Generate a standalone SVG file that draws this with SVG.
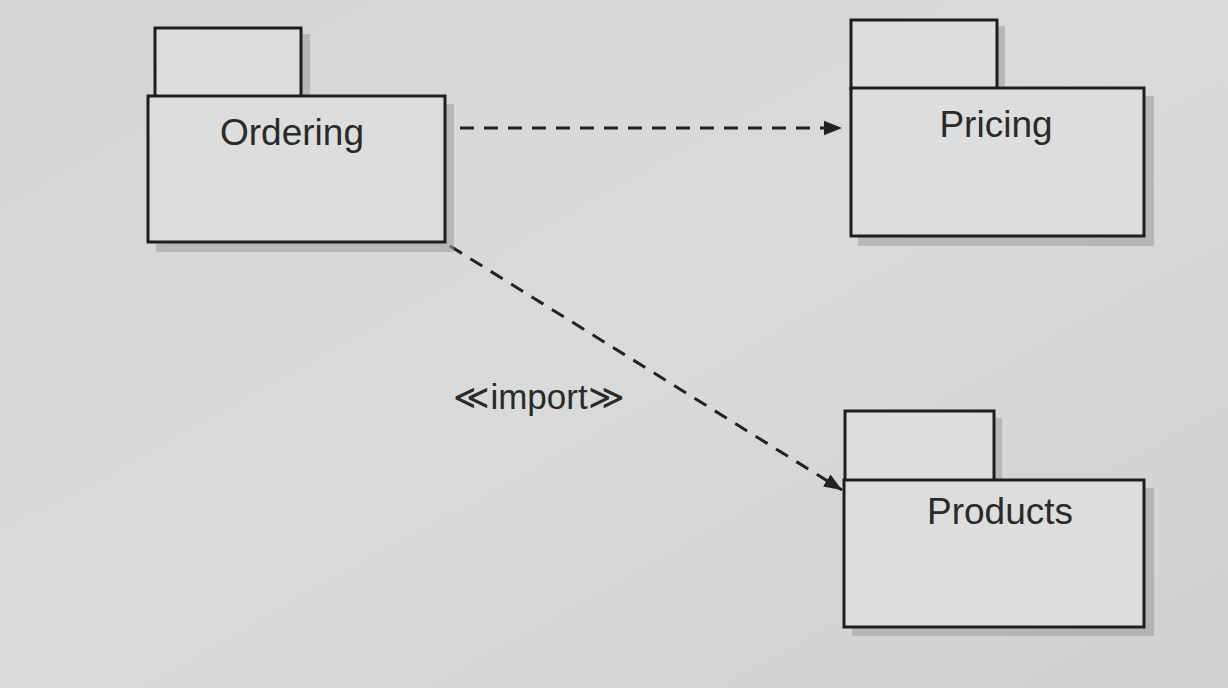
<svg xmlns="http://www.w3.org/2000/svg" width="1228" height="688" viewBox="0 0 1228 688">
<defs>
<style>
.shadow{fill:#9a9c9b;opacity:0.55}
.box{fill:#dcdedd;stroke:#1e1e1e;stroke-width:3}
.lbl{font-family:"Liberation Sans",Arial,sans-serif;font-size:37px;fill:#2a2a2a;text-anchor:middle}
.dep{fill:none;stroke:#222;stroke-width:3;stroke-dasharray:14 10}
</style>
<marker id="arr" viewBox="0 0 10 10" refX="10" refY="5" markerWidth="6" markerHeight="6" markerUnits="strokeWidth" orient="auto">
<path d="M0,1 L10,5 L0,9 Z" fill="#222"/>
</marker>
<linearGradient id="bg" x1="0" y1="0" x2="1" y2="1">
<stop offset="0" stop-color="#d4d6d5"/>
<stop offset="0.5" stop-color="#d9dbda"/>
<stop offset="1" stop-color="#cfd1d0"/>
</linearGradient>
</defs>
<rect width="1228" height="688" fill="url(#bg)"/>
<g id="connectors">
<line class="dep" x1="460" y1="128" x2="842" y2="128" marker-end="url(#arr)"/>
<line class="dep" x1="450" y1="246" x2="842" y2="490" marker-end="url(#arr)"/>
<text class="lbl" x="539" y="409" style="font-size:35px">≪import≫</text>
</g>
<g id="ordering">
<rect class="shadow" x="162" y="34" width="148" height="70"/>
<rect class="shadow" x="156" y="104" width="298" height="148"/>
<rect class="box" x="155" y="28" width="146" height="69"/>
<rect class="box" x="148" y="96" width="297" height="146"/>
<text class="lbl" x="292" y="145">Ordering</text>
</g>
<g id="pricing">
<rect class="shadow" x="858" y="26" width="147" height="70"/>
<rect class="shadow" x="858" y="96" width="296" height="150"/>
<rect class="box" x="851" y="20" width="146" height="69"/>
<rect class="box" x="851" y="88" width="293" height="148"/>
<text class="lbl" x="996" y="137">Pricing</text>
</g>
<g id="products">
<rect class="shadow" x="852" y="418" width="150" height="70"/>
<rect class="shadow" x="852" y="488" width="302" height="148"/>
<rect class="box" x="845" y="411" width="149" height="70"/>
<rect class="box" x="844" y="480" width="300" height="147"/>
<text class="lbl" x="1000" y="524">Products</text>
</g>
</svg>
